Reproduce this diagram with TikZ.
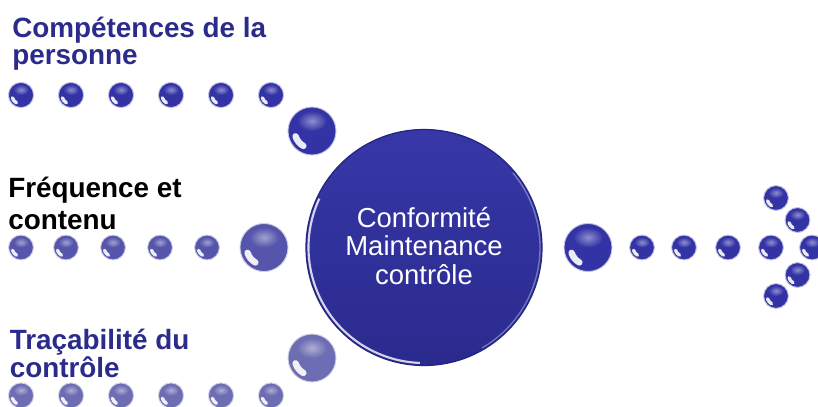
\documentclass[tikz,border=0pt]{standalone}
\usepackage{fontspec}
\setmainfont{Liberation Sans}
\definecolor{ballD}{HTML}{3333A6}
\definecolor{ballM}{HTML}{5555AB}
\definecolor{ballL}{HTML}{6D6DB3}
\definecolor{hubtop}{HTML}{3737A8}
\definecolor{hubbot}{HTML}{2A2A8E}
\definecolor{hubdark}{HTML}{24247F}
\definecolor{labblue}{HTML}{2B2B8C}
\tikzset{
  gb/.style={circle, inner sep=0pt, outer sep=0pt},
  lab/.style={anchor=base west, inner sep=0pt, font=\fontsize{20.9}{24}\selectfont\bfseries},
}
\newcommand\gball[5]{%
  \node[gb, fill=#5, minimum size={#4*1.5pt}] (#1) at (#2,#3) {};
  \begin{scope}[shift={(#1.center)}, scale=#4]
    \shade[inner color=#5!55!white, outer color=#5] (0,-0.42) ellipse (0.62 and 0.42);
    \draw[white, opacity=0.9, line width={#4*0.2pt}, line cap=round] (120:0.72) arc (120:162:0.72);
    \draw[#5!30!white, line width=0.7pt] (0,0) circle (1);
  \end{scope}}
\begin{document}
\begin{tikzpicture}[x=0.75pt, y=-0.75pt]
  \useasboundingbox (0,0) rectangle (818,407);
  \clip (0,0) rectangle (818,407);

  % labels
  \node[lab, text=labblue] (l1a) at (12,37) {Compétences de la};
  \node[lab, text=labblue] (l1b) at (12,64) {personne};
  \node[lab, text=black]   (l2a) at (8,197) {Fréquence et};
  \node[lab, text=black]   (l2b) at (8,229) {contenu};
  \node[lab, text=labblue] (l3a) at (9.5,349) {Traçabilité du};
  \node[lab, text=labblue] (l3b) at (9.5,377) {contrôle};

  % top row
  \foreach \i/\x in {1/21,2/71,3/121,4/171,5/221,6/271} {\gball{t\i}{\x}{95}{12.6}{ballD}}
  \gball{tbig}{312}{131}{24}{ballD}

  % middle row
  \foreach \i/\x in {1/21,2/66,3/113,4/160,5/207} {\gball{m\i}{\x}{247.5}{12.4}{ballM}}
  \gball{mbig}{264}{247.5}{24}{ballM}

  % bottom row
  \foreach \i/\x in {1/21,2/71,3/121,4/171,5/221,6/271} {\gball{b\i}{\x}{395.5}{12.6}{ballL}}
  \gball{bbig}{312}{358}{24}{ballL}

  % hub
  \node[circle, inner sep=0pt, minimum size=177pt, top color=hubtop, bottom color=hubbot,
        draw=hubdark, line width=0.9pt] (hub) at (424,247.5) {};
  \begin{scope}[shift={(hub.center)}]
    \draw[white, opacity=0.8, line width=1.6pt] (92:115.5) arc (92:205:115.5);
    \draw[white, opacity=0.35, line width=1pt] (-40:116) arc (-40:60:116);
  \end{scope}
  \node[text=white, align=center, inner sep=0pt, font=\fontsize{20.6}{21.4}\selectfont] (hubtext) at (424,246) {Conformité\\Maintenance\\contrôle};

  % right side
  \gball{rbig}{588}{247.5}{24}{ballD}
  \foreach \i/\x in {1/642,2/684,3/728,4/771,5/812} {\gball{r\i}{\x}{247.5}{12.4}{ballD}}
  \gball{a1}{776}{198}{12.4}{ballD}
  \gball{a2}{797.5}{220}{12.4}{ballD}
  \gball{a3}{797.5}{275}{12.4}{ballD}
  \gball{a4}{776}{296}{12.4}{ballD}
\end{tikzpicture}
\end{document}
